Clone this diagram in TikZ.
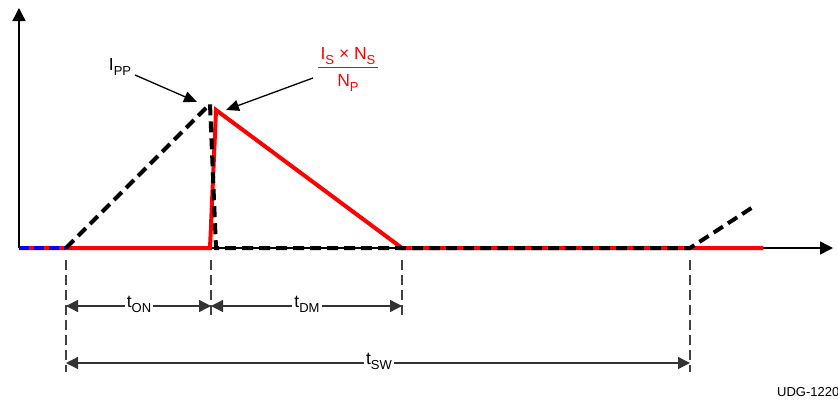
\documentclass[tikz,border=0pt]{standalone}
\usepackage{fontspec}
\setmainfont{Liberation Sans}
\usetikzlibrary{positioning, arrows.meta}
\definecolor{CurRed}{RGB}{255,0,0}
\definecolor{CurBlue}{RGB}{0,0,255}
\newcommand\sbs[1]{\raisebox{-5pt}{\fontsize{13}{14}\selectfont #1}}
\tikzset{
  axis/.style={-{Triangle[length=13pt,width=13pt]}, line width=1.4pt, black},
  primwave/.style={line width=4pt, black, dash pattern=on 11pt off 6pt},
  secwave/.style={line width=4pt, CurRed},
  guide/.style={line width=1.3pt, black!75, dash pattern=on 10pt off 5pt},
  dimarr/.style={{Triangle[length=12pt,width=12pt]}-{Triangle[length=12pt,width=12pt]}, line width=1.3pt, black!80},
  callout/.style={-{Triangle[length=13pt,width=11pt]}, line width=1.3pt, black},
  lbl/.style={font=\fontsize{17.5}{20}\selectfont, inner sep=2pt},
}
\begin{document}
\begin{tikzpicture}[x=1pt, y=-1pt]
  \useasboundingbox (0,0) rectangle (838,399);
  % axes
  \coordinate (org) at (19,248);
  \coordinate (ytop) at (19,8);
  \coordinate (xend) at (833,248);
  \draw[axis] (org) -- (ytop);
  \draw[axis] (org) -- (xend);
  % key instants
  \coordinate (t0) at (66,248);
  \coordinate (t1) at (211,248);
  \coordinate (t2) at (402,248);
  \coordinate (t3) at (690,248);
  \coordinate (pk) at (210,104);
  \coordinate (sk) at (216,110);
  % secondary current (red)
  \draw[secwave] (org) -- (t0) -- (210,248) -- (sk) -- (t2) -- (763,248);
  \draw[line width=4pt, CurBlue, dash pattern=on 10pt off 5pt] (org) -- (t0);
  % primary current (black dashed)
  \draw[primwave] (t0) -- (pk) -- (216,248) -- (t3) -- (753,207);
  % guides
  \foreach \c/\yb in {t0/372, t1/315, t2/315, t3/372} {
    \draw[guide] ([yshift=-12pt]\c) -- (\c |- 0,\yb);
  }
  % dimensions
  \draw[dimarr] (66,306) -- (211,306);
  \draw[dimarr] (211,306) -- (402,306);
  \draw[dimarr] (66,363) -- (690,363);
  \node[lbl, fill=white] (ton) at (139,304) {t\sbs{ON}};
  \node[lbl, fill=white] (tdm) at (307,304) {t\sbs{DM}};
  \node[lbl, fill=white] (tsw) at (379,361) {t\sbs{SW}};
  % peak labels
  \node[lbl] (ipp) at (120,67) {I\sbs{PP}};
  \draw[callout] (135,75) -- (197,102);
  \node[lbl, text=CurRed, inner sep=0pt] (isn) at (348,69) {\setlength{\arrayrulewidth}{1.3pt}\begin{tabular}{@{\,}c@{\,}}I\sbs{S} × N\sbs{S}\rule[-7pt]{0pt}{1pt}\\\hline N\sbs{P}\rule{0pt}{18pt}\end{tabular}};
  \draw[callout] (313,78) -- (226,110);
  \node[font=\fontsize{13}{14}\selectfont, anchor=base west, inner sep=0pt] (udg) at (777,396) {UDG-1220};
\end{tikzpicture}
\end{document}
